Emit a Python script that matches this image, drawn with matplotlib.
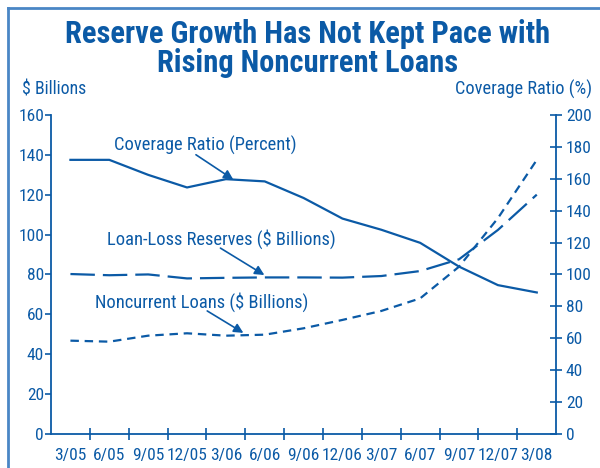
import matplotlib
matplotlib.use("Agg")
import matplotlib.pyplot as plt
from matplotlib import font_manager
from matplotlib.lines import Line2D
import numpy as np

quarters = ["3/05", "6/05", "9/05", "12/05", "3/06", "6/06", "9/06",
            "12/06", "3/07", "6/07", "9/07", "12/07", "3/08"]
reserves = [80.2, 79.6, 80.0, 78.0, 78.3, 78.5, 78.5, 78.4, 79.2, 81.7, 87.6, 102.3, 120.0]
noncurrent = [46.8, 46.3, 49.3, 50.5, 49.3, 49.8, 53.0, 57.2, 61.7, 68.0, 83.9, 108.2, 137.4]
coverage = [171.8, 171.8, 162.4, 154.5, 159.7, 158.3, 147.9, 135.0, 128.0, 119.8, 104.9, 93.3, 88.7]

BLUE = "#0b5aa6"
FRAME = "#4a86c5"

# condensed face if the box has one, DejaVu otherwise
names = {f.name for f in font_manager.fontManager.ttflist}
font = next((n for n in ["Roboto Condensed", "Barlow Semi Condensed", "Asap Condensed",
                         "Archivo Narrow"] if n in names), "DejaVu Sans")
plt.rcParams["font.family"] = [font, "DejaVu Sans"]

fig = plt.figure(figsize=(6, 4.68), dpi=100)
ax = fig.add_axes([0.085, 0.0726, 0.842, 0.682])
ax2 = ax.twinx()

x = np.arange(len(quarters))
ax.plot(x, reserves, color=BLUE, lw=1.6, dashes=(11, 3.6))
ax.plot(x, noncurrent, color=BLUE, lw=1.6, dashes=(3.8, 2.6))
ax2.plot(x, coverage, color=BLUE, lw=1.6)

ax.set_xlim(-0.5, 12.5)
ax.set_ylim(0, 160)
ax2.set_ylim(0, 200)
ax.set_yticks(range(0, 161, 20))
ax2.set_yticks(range(0, 201, 20))
ax.set_xticks(x)
ax.set_xticklabels(quarters)
ax.set_xticks(np.arange(0.5, 12, 1), minor=True)

for a in (ax, ax2):
    for s in a.spines.values():
        s.set_color(BLUE)
        s.set_linewidth(1.3)
    a.spines["top"].set_visible(False)
ax.spines["right"].set_visible(False)
ax2.spines["left"].set_visible(False)
ax2.spines["bottom"].set_visible(False)

ax.tick_params(axis="x", which="major", length=0, pad=10, labelsize=12.5, labelcolor=BLUE)
ax.tick_params(axis="x", which="minor", direction="inout", length=8, width=1.2, color=BLUE)
ax.tick_params(axis="y", direction="out", length=4, width=1.2, color=BLUE,
               labelsize=12.5, labelcolor=BLUE, pad=1)
ax2.tick_params(axis="y", direction="inout", length=8, width=1.2, color=BLUE,
                labelsize=12.5, labelcolor=BLUE, pad=3)

# series labels with their pointer arrows (start just under the text)
arrow = dict(arrowstyle="-|>", color=BLUE, lw=1.2, mutation_scale=14, shrinkA=0, shrinkB=0)
ax2.text(3.47, 181, "Coverage Ratio (Percent)", ha="center", va="center", fontsize=13.3, color=BLUE)
ax2.annotate("", xy=(4.19, 159.5), xytext=(3.23, 175), arrowprops=arrow)
ax.text(3.88, 97.8, "Loan-Loss Reserves ($ Billions)", ha="center", va="center", fontsize=13.3, color=BLUE)
ax.annotate("", xy=(4.99, 79.7), xytext=(3.86, 93.2), arrowprops=arrow)
ax.text(3.39, 66.2, "Noncurrent Loans ($ Billions)", ha="center", va="center", fontsize=13.3, color=BLUE)
ax.annotate("", xy=(4.45, 50.7), xytext=(3.52, 61.7), arrowprops=arrow)

fig.text(0.513, 0.928, "Reserve Growth Has Not Kept Pace with", ha="center", va="center",
         fontsize=22, fontweight="bold", color=BLUE)
fig.text(0.513, 0.865, "Rising Noncurrent Loans", ha="center", va="center",
         fontsize=22, fontweight="bold", color=BLUE)
fig.text(0.037, 0.808, "$ Billions", ha="left", va="center", fontsize=12.8, color=BLUE)
fig.text(0.987, 0.808, "Coverage Ratio (%)", ha="right", va="center", fontsize=13.2, color=BLUE)

fig.add_artist(Line2D([0.013, 0.013], [0, 0.983], color=FRAME, lw=2))
fig.add_artist(Line2D([0.013, 1.0], [0.983, 0.983], color=FRAME, lw=2))

fig.savefig("out.png", dpi=100)
